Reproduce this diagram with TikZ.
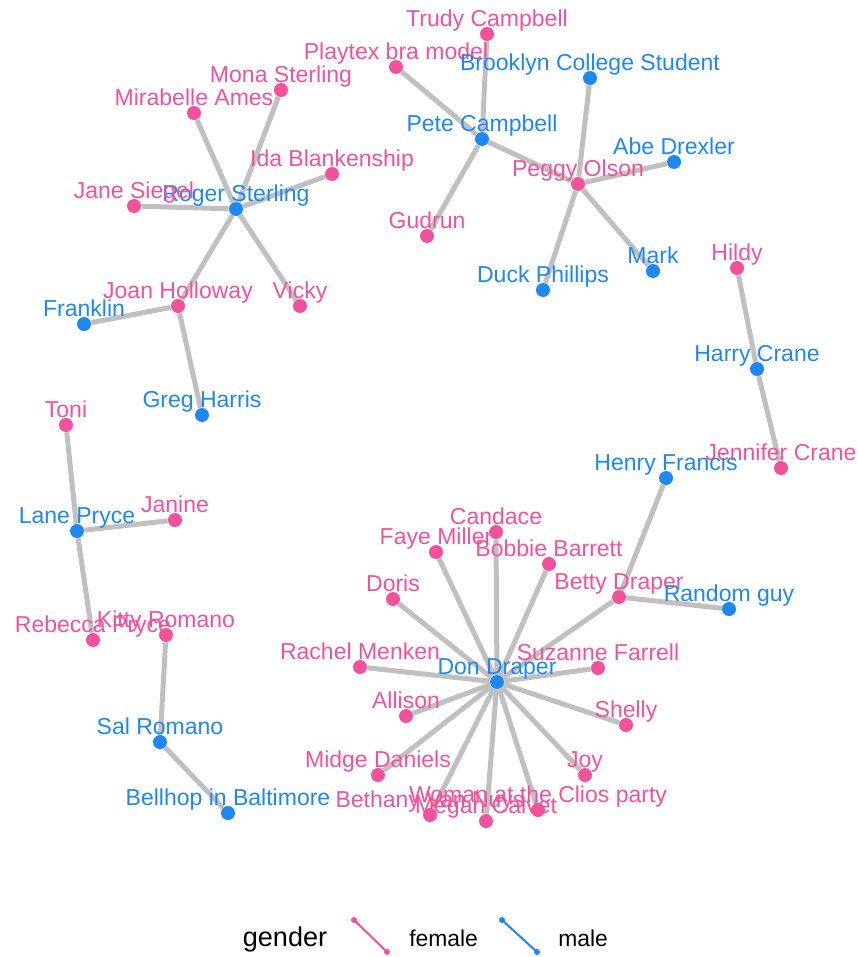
\documentclass[tikz,border=0pt]{standalone}
\usepackage{fontspec}
\setmainfont{Liberation Sans}
\usetikzlibrary{backgrounds}

\definecolor{femcol}{RGB}{242,82,156}
\definecolor{malcol}{RGB}{30,136,240}
\definecolor{edgecol}{RGB}{192,192,192}

\tikzset{
  person/.style={circle, inner sep=0pt, minimum size=0.28cm, label distance=0.04cm},
  lbl/.style={anchor=base, inner sep=0pt, font=\fontsize{13.1}{15}\selectfont},
  fem/.style={person, fill=femcol, label={[lbl, text=femcol]90:#1}},
  mal/.style={person, fill=malcol, label={[lbl, text=malcol]90:#1}},
  edge/.style={draw=edgecol, line width=0.1cm},
  keyline/.style={line width=0.04cm}
}

\begin{document}
\begin{tikzpicture}[x=0.02cm, y=-0.02cm]
        \useasboundingbox (0,0) rectangle (858,957);

        % Roger Sterling and friends
        \node[mal=Roger Sterling] (roger) at (236,209) {};
        \node[fem=Mirabelle Ames] (mirabelle) at (194,113) {};
        \node[fem=Mona Sterling] (mona) at (281,90) {};
        \node[fem=Ida Blankenship] (ida) at (332,174) {};
        \node[fem=Jane Siegel] (jane) at (134,206) {};
        \node[fem=Vicky] (vicky) at (300,306) {};
        \node[fem=Joan Holloway] (joan) at (178,306) {};
        \node[mal=Franklin] (franklin) at (84,324) {};
        \node[mal=Greg Harris] (greg) at (202,415) {};

        % Pete and Peggy
        \node[fem=Playtex bra model] (playtex) at (396,67) {};
        \node[fem=Trudy Campbell] (trudy) at (487,34) {};
        \node[mal=Pete Campbell] (pete) at (482,139) {};
        \node[fem=Gudrun] (gudrun) at (427,236) {};
        \node[fem=Peggy Olson] (peggy) at (578,184) {};
        \node[mal=Brooklyn College Student] (brooklyn) at (590,78) {};
        \node[mal=Abe Drexler] (abe) at (674,162) {};
        \node[mal=Mark] (mark) at (653,271) {};
        \node[mal=Duck Phillips] (duck) at (543,290) {};

        % Harry Crane
        \node[fem=Hildy] (hildy) at (737,268) {};
        \node[mal=Harry Crane] (harry) at (757,369) {};
        \node[fem=Jennifer Crane] (jennifer) at (781,468) {};

        % Lane Pryce
        \node[fem=Toni] (toni) at (66,425) {};
        \node[mal=Lane Pryce] (lane) at (77,531) {};
        \node[fem=Janine] (janine) at (175,520) {};
        \node[fem=Rebecca Pryce] (rebecca) at (93,640) {};

        % Sal Romano
        \node[fem=Kitty Romano] (kitty) at (166,635) {};
        \node[mal=Sal Romano] (sal) at (160,742) {};
        \node[mal=Bellhop in Baltimore] (bellhop) at (228,813) {};

        % Don Draper
        \node[mal=Henry Francis] (henry) at (666,478) {};
        \node[fem=Betty Draper] (betty) at (619,597) {};
        \node[mal=Random guy] (random) at (729,609) {};
        \node[mal=Don Draper] (don) at (497,682) {};
        \node[fem=Candace] (candace) at (496,532) {};
        \node[fem=Faye Miller] (faye) at (436,552) {};
        \node[fem=Bobbie Barrett] (bobbie) at (549,564) {};
        \node[fem=Doris] (doris) at (393,599) {};
        \node[fem=Rachel Menken] (rachel) at (360,667) {};
        \node[fem=Suzanne Farrell] (suzanne) at (598,668) {};
        \node[fem=Allison] (allison) at (406,716) {};
        \node[fem=Shelly] (shelly) at (626,725) {};
        \node[fem=Midge Daniels] (midge) at (378,775) {};
        \node[fem=Joy] (joy) at (585,775) {};
        \node[fem=Bethany Van Nuys] (bethany) at (430,815) {};
        \node[fem=Megan Calvet] (megan) at (486,821) {};
        \node[fem=Woman at the Clios party] (woman) at (538,810) {};

        \begin{pgfonlayer}{background}
          \foreach \w in {mirabelle,mona,ida,jane,vicky,joan}
            \draw[edge] (roger) -- (\w);
          \draw[edge] (franklin) -- (joan) -- (greg);
          \foreach \w in {playtex,trudy,gudrun,peggy}
            \draw[edge] (pete) -- (\w);
          \foreach \w in {brooklyn,abe,mark,duck}
            \draw[edge] (peggy) -- (\w);
          \draw[edge] (hildy) -- (harry) -- (jennifer);
          \draw[edge] (toni) -- (lane) -- (rebecca);
          \draw[edge] (lane) -- (janine);
          \draw[edge] (kitty) -- (sal) -- (bellhop);
          \draw[edge] (henry) -- (betty) -- (random);
          \foreach \w in {betty,candace,faye,bobbie,doris,rachel,suzanne,allison,shelly,midge,joy,bethany,megan,woman}
            \draw[edge] (don) -- (\w);
        \end{pgfonlayer}

        % legend
        \node[anchor=base, font=\fontsize{15.4}{17}\selectfont] (gender) at (285,946) {gender};
        \coordinate (fa) at (354,920);
        \coordinate (fb) at (387,952);
        \coordinate (ma) at (502,920);
        \coordinate (mb) at (537,952);
        \draw[keyline, femcol] (fa) -- (fb);
        \fill[femcol] (fa) circle (3) (fb) circle (3);
        \node[anchor=base west, inner sep=0pt, font=\fontsize{13}{15}\selectfont] (female) at (409,946) {female};
        \draw[keyline, malcol] (ma) -- (mb);
        \fill[malcol] (ma) circle (3) (mb) circle (3);
        \node[anchor=base west, inner sep=0pt, font=\fontsize{13}{15}\selectfont] (male) at (558,946) {male};
\end{tikzpicture}
\end{document}
